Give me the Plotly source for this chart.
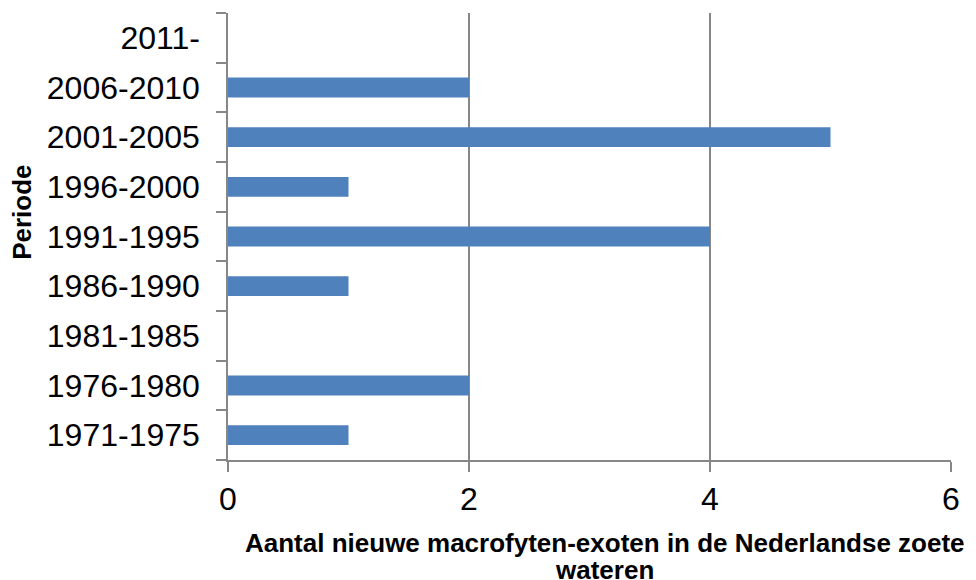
import plotly.graph_objects as go

periods = ["1971-1975", "1976-1980", "1981-1985", "1986-1990", "1991-1995",
           "1996-2000", "2001-2005", "2006-2010", "2011-"]
counts = [1, 2, 0, 1, 4, 1, 5, 2, 0]
x_ticks = [0, 2, 4, 6]

FONT = "Liberation Sans, Arial, sans-serif"
GRAY = "#878787"

fig = go.Figure(go.Bar(
    x=counts, y=periods, orientation="h",
    marker=dict(color="#4F81BD", line=dict(width=0)),
))

fig.update_layout(
    width=968, height=572,
    margin=dict(l=220, r=25, t=5, b=120),
    paper_bgcolor="white", plot_bgcolor="white",
    bargap=0.6,
    showlegend=False,
    font=dict(family=FONT, color="black"),
)

fig.update_xaxes(
    range=[0, 6], tickvals=x_ticks, ticktext=[str(v) for v in x_ticks],
    showgrid=True, gridcolor=GRAY, gridwidth=1.5,
    showline=True, linecolor=GRAY, linewidth=1.5,
    ticks="outside", ticklen=10, tickcolor=GRAY, tickwidth=1.5,
    tickfont=dict(size=32, family=FONT, color="black"),
    zeroline=False,
)
fig.update_yaxes(
    type="category", categoryorder="array", categoryarray=periods,
    showgrid=False, tickson="boundaries",
    showline=True, linecolor=GRAY, linewidth=1.5,
    ticks="outside", ticklen=10, tickcolor=GRAY, tickwidth=1.5,
    tickfont=dict(size=32, family=FONT, color="black"),
    ticklabelstandoff=20,
)

fig.add_annotation(
    text="<b>Periode</b>", textangle=-90,
    xref="paper", yref="paper", x=-0.285, y=0.555,
    xanchor="center", yanchor="middle", showarrow=False,
    font=dict(size=26, family=FONT, color="black"),
)
fig.add_annotation(
    text="<b>Aantal nieuwe macrofyten-exoten in de Nederlandse zoete</b>",
    xref="paper", yref="paper", x=0.521, y=-0.186,
    xanchor="center", yanchor="middle", showarrow=False,
    font=dict(size=26, family=FONT, color="black"),
)
fig.add_annotation(
    text="<b>wateren</b>",
    xref="paper", yref="paper", x=0.521, y=-0.246,
    xanchor="center", yanchor="middle", showarrow=False,
    font=dict(size=26, family=FONT, color="black"),
)

fig.write_html("out.html")
